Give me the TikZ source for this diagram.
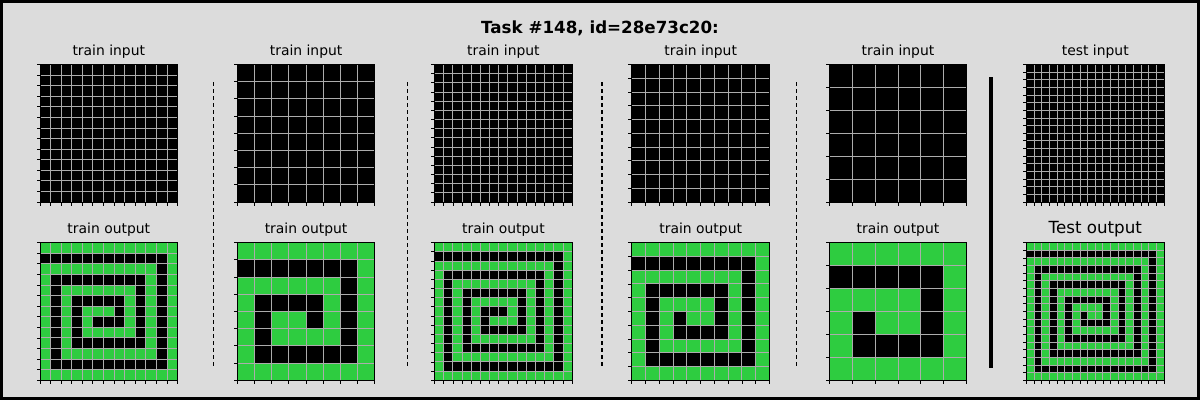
\documentclass[tikz,border=0pt]{standalone}
\usepackage{fontspec}
\setmainfont{DejaVu Sans}
\definecolor{bg}{HTML}{DCDCDC}
\definecolor{arcg}{HTML}{2ECC40}
\definecolor{gl}{HTML}{ACACAC}
\tikzset{
  lbl/.style={font=\fontsize{13.9}{16}\selectfont, text=black, inner sep=0pt, anchor=center},
  bigl/.style={font=\fontsize{16.7}{19}\selectfont, text=black, inner sep=0pt, anchor=center},
  ttl/.style={font=\bfseries\fontsize{16.7}{19}\selectfont, text=black, inner sep=0pt, anchor=center},
  gridl/.style={draw=gl, line width=1pt},
  tickl/.style={draw=black, line width=0.9pt},
  sepd/.style={draw=black, line width=1.2pt, dash pattern=on 4pt off 3pt},
  seps/.style={draw=black, line width=4pt}
}
\newcommand\pgrid[4]{%
  \pgfmathsetmacro\cs{137.6/#3}%
  \pgfmathtruncatemacro\nm{#3-1}%
  \fill[black] (#1,#2) rectangle ++(137.6,137.6);
  \if\relax\detokenize{#4}\relax\else
  \begin{scope}[shift={(#1,#2)}, x=\cs pt, y=-\cs pt, shift={(0.5,0.5)}]
    \draw[arcg, line width=\cs pt, line cap=rect, line join=miter] #4;
  \end{scope}
  \fi
  \foreach \i in {1,...,\nm} {
    \draw[gridl] (#1+\i*\cs, #2) -- ++(0,137.6);
    \draw[gridl] (#1, #2+\i*\cs) -- ++(137.6,0);
  }
  \foreach \i in {0,...,#3} {
    \draw[tickl] (#1, #2+\i*\cs) -- ++(-3.5,0);
    \draw[tickl] (#1+\i*\cs, #2+137.6) -- ++(0,3.5);
  }
  \draw[black, line width=1pt] (#1,#2) rectangle ++(137.6,137.6);
}
\begin{document}
\begin{tikzpicture}[x=1pt,y=-1pt]
\useasboundingbox (0,0) rectangle (1200,400);
\fill[bg] (0,0) rectangle (1200,400);
\draw[black, line width=3pt] (1.5,1.5) rectangle (1198.5,398.5);
\node[ttl] (title) at (600,28) {Task \#148, id=28e73c20:};
% labels
\node[lbl] (l1a) at (108.8,52) {train input};
\node[lbl] (l2a) at (306.1,52) {train input};
\node[lbl] (l3a) at (503.4,52) {train input};
\node[lbl] (l4a) at (700.7,52) {train input};
\node[lbl] (l5a) at (898.0,52) {train input};
\node[lbl] (l6a) at (1095.3,52) {test input};
\node[lbl] (l1b) at (108.8,230) {train output};
\node[lbl] (l2b) at (306.1,230) {train output};
\node[lbl] (l3b) at (503.4,230) {train output};
\node[lbl] (l4b) at (700.7,230) {train output};
\node[lbl] (l5b) at (898.0,230) {train output};
\node[bigl] (l6b) at (1095.3,229.5) {Test output};
% inputs
\pgrid{40}{64.5}{13}{}
\pgrid{237.3}{64.5}{8}{}
\pgrid{434.6}{64.5}{15}{}
\pgrid{631.9}{64.5}{10}{}
\pgrid{829.2}{64.5}{6}{}
\pgrid{1026.5}{64.5}{18}{}
% outputs
\pgrid{40}{242.7}{13}{(0,0)--(12,0)--(12,12)--(0,12)--(0,2)--(10,2)--(10,10)--(2,10)--(2,4)--(8,4)--(8,8)--(4,8)--(4,6)--(6,6)}
\pgrid{237.3}{242.7}{8}{(0,0)--(7,0)--(7,7)--(0,7)--(0,2)--(5,2)--(5,5)--(2,5)--(2,4)--(3,4)}
\pgrid{434.6}{242.7}{15}{(0,0)--(14,0)--(14,14)--(0,14)--(0,2)--(12,2)--(12,12)--(2,12)--(2,4)--(10,4)--(10,10)--(4,10)--(4,6)--(8,6)--(8,8)--(6,8)}
\pgrid{631.9}{242.7}{10}{(0,0)--(9,0)--(9,9)--(0,9)--(0,2)--(7,2)--(7,7)--(2,7)--(2,4)--(5,4)--(5,5)--(4,5)}
\pgrid{829.2}{242.7}{6}{(0,0)--(5,0)--(5,5)--(0,5)--(0,2)--(3,2)--(3,3)--(2,3)}
\pgrid{1026.5}{242.7}{18}{(0,0)--(17,0)--(17,17)--(0,17)--(0,2)--(15,2)--(15,15)--(2,15)--(2,4)--(13,4)--(13,13)--(4,13)--(4,6)--(11,6)--(11,11)--(6,11)--(6,8)--(9,8)--(9,9)--(8,9)}
% separators
\coordinate (s1a) at (213.3,82); \coordinate (s1b) at (213.3,366);
\coordinate (s2a) at (407.4,82); \coordinate (s2b) at (407.4,366);
\coordinate (s3a) at (601.9,82); \coordinate (s3b) at (601.9,366);
\coordinate (s4a) at (796.2,82); \coordinate (s4b) at (796.2,366);
\coordinate (s5a) at (991,77); \coordinate (s5b) at (991,368);
\draw[sepd] (s1a) -- (s1b);
\draw[sepd] (s2a) -- (s2b);
\draw[sepd] (s3a) -- (s3b);
\draw[sepd] (s4a) -- (s4b);
\draw[seps] (s5a) -- (s5b);
\end{tikzpicture}
\end{document}
